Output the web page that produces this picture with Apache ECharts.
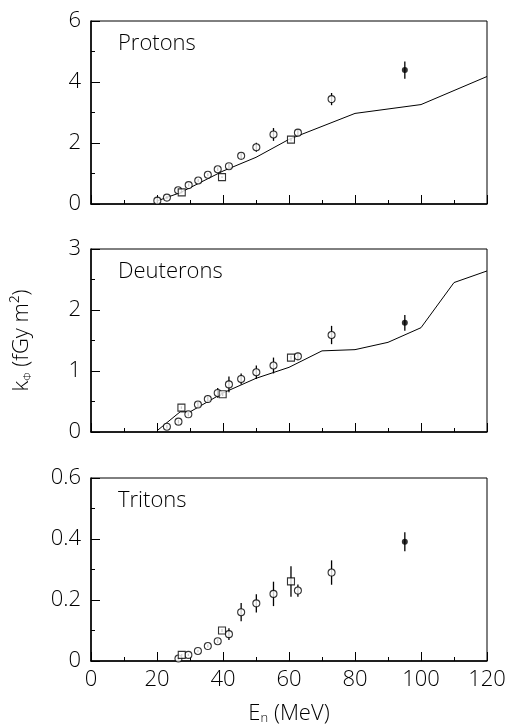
<!DOCTYPE html>
<html>
<head>
<meta charset="utf-8">
<script src="https://cdn.jsdelivr.net/npm/echarts@6/dist/echarts.min.js"></script>
<style>html,body{margin:0;padding:0;background:#fff;}#c{width:510px;height:727px;}</style>
</head>
<body>
<div id="c"></div>
<script>
// ---------- Data ----------
const panelNames = ['Protons', 'Deuterons', 'Tritons'];
const xTicks = [0, 20, 40, 60, 80, 100, 120];

// Protons
const pCircX = [20.1, 23.0, 26.4, 29.6, 32.5, 35.4, 38.4, 41.8, 45.5, 50.1, 55.3, 62.7, 72.9];
const pCircY = [0.11, 0.21, 0.45, 0.62, 0.77, 0.96, 1.14, 1.24, 1.58, 1.86, 2.28, 2.34, 3.44];
const pCircE = [0.13, 0.05, 0.05, 0.05, 0.05, 0.05, 0.06, 0.08, 0.12, 0.15, 0.21, 0.10, 0.20];
const pSqX = [27.5, 39.7, 60.6];
const pSqY = [0.38, 0.88, 2.11];
const pSqE = [0.03, 0.03, 0.05];
const pFillX = [95.1];
const pFillY = [4.39];
const pFillE = [0.28];
const pLineX = [20, 27, 40, 50, 60, 80, 100, 120];
const pLineY = [0.10, 0.37, 1.08, 1.53, 2.12, 2.97, 3.26, 4.18];

// Deuterons
const dCircX = [23.0, 26.5, 29.5, 32.4, 35.4, 38.4, 41.8, 45.5, 50.1, 55.3, 62.7, 72.9];
const dCircY = [0.087, 0.17, 0.29, 0.45, 0.54, 0.64, 0.78, 0.87, 0.98, 1.09, 1.24, 1.59];
const dCircE = [0.03, 0.03, 0.03, 0.05, 0.06, 0.08, 0.13, 0.09, 0.11, 0.13, 0.06, 0.15];
const dSqX = [27.4, 39.9, 60.6];
const dSqY = [0.40, 0.62, 1.22];
const dSqE = [0.02, 0.03, 0.03];
const dFillX = [95.1];
const dFillY = [1.79];
const dFillE = [0.13];
const dLineX = [20, 27, 30, 40, 50, 60, 70, 80, 90, 100, 110, 120];
const dLineY = [0.02, 0.33, 0.33, 0.64, 0.88, 1.06, 1.33, 1.35, 1.47, 1.71, 2.45, 2.64];

// Tritons
const tCircX = [26.5, 29.5, 32.4, 35.4, 38.4, 41.8, 45.5, 50.1, 55.3, 62.7, 72.9];
const tCircY = [0.008, 0.020, 0.033, 0.049, 0.065, 0.088, 0.160, 0.189, 0.220, 0.231, 0.290];
const tCircE = [0.004, 0.004, 0.004, 0.005, 0.006, 0.019, 0.030, 0.030, 0.040, 0.020, 0.040];
const tSqX = [27.5, 39.7, 60.6];
const tSqY = [0.020, 0.100, 0.261];
const tSqE = [0.003, 0.005, 0.050];
const tFillX = [95.1];
const tFillY = [0.391];
const tFillE = [0.031];

const yMax = [6, 3, 0.6];
const yInterval = [2, 1, 0.2];

// ---------- Build ----------
const FONT = '"Open Sans"';
const FW = 300;
const zip = (xs, ys) => xs.map((x, i) => [x, ys[i]]);
const errs = (xs, ys, es) => xs.map((x, i) => [x, ys[i] - es[i], ys[i] + es[i]]);

function errRender(params, api) {
  const x = api.value(0);
  const p1 = api.coord([x, api.value(1)]);
  const p2 = api.coord([x, api.value(2)]);
  return {
    type: 'line',
    shape: { x1: p1[0], y1: p1[1], x2: p2[0], y2: p2[1] },
    style: { stroke: '#000', lineWidth: 1.3 }
  };
}

const panels = [
  { circ: [pCircX, pCircY, pCircE], sq: [pSqX, pSqY, pSqE], fill: [pFillX, pFillY, pFillE], line: [pLineX, pLineY] },
  { circ: [dCircX, dCircY, dCircE], sq: [dSqX, dSqY, dSqE], fill: [dFillX, dFillY, dFillE], line: [dLineX, dLineY] },
  { circ: [tCircX, tCircY, tCircE], sq: [tSqX, tSqY, tSqE], fill: [tFillX, tFillY, tFillE], line: null }
];

const gridTops = [21, 249, 478];
const gridH = 183;
const grids = [], xAxes = [], yAxes = [], series = [], graphics = [];
const subStyle = { fontSize: 13, fontFamily: FONT, fontWeight: FW, color: '#000', verticalAlign: 'bottom', padding: [10, 0, 0, 0] };

panels.forEach((p, i) => {
  grids.push({ left: 91, top: gridTops[i], width: 396, height: gridH, show: true, borderColor: '#000', borderWidth: 1, backgroundColor: 'transparent' });
  xAxes.push({
    gridIndex: i, type: 'value', min: xTicks[0], max: xTicks[xTicks.length - 1], interval: xTicks[1] - xTicks[0],
    axisLine: { show: true, onZero: false, lineStyle: { color: '#000', width: 1.5 } },
    axisTick: { show: true, inside: true, length: 9, lineStyle: { color: '#000', width: 1 } },
    minorTick: { show: true, splitNumber: 2, length: 4, lineStyle: { color: '#000', width: 1 } },
    splitLine: { show: false },
    axisLabel: { show: i === 2, color: '#000', fontFamily: FONT, fontWeight: FW, fontSize: 22, margin: 8, showMinLabel: true, showMaxLabel: true },
    name: i === 2 ? 'E{sub|n} (MeV)' : '',
    nameLocation: 'middle', nameGap: 41,
    nameTextStyle: { color: '#000', fontFamily: FONT, fontWeight: FW, fontSize: 22, rich: { sub: subStyle } }
  });
  yAxes.push({
    gridIndex: i, type: 'value', min: 0, max: yMax[i], interval: yInterval[i],
    axisLine: { show: true, onZero: false, lineStyle: { color: '#000', width: 1.5 } },
    axisTick: { show: true, inside: true, length: 9, lineStyle: { color: '#000', width: 1 } },
    minorTick: { show: true, splitNumber: 2, length: 4, lineStyle: { color: '#000', width: 1 } },
    splitLine: { show: false },
    axisLabel: { color: '#000', fontFamily: FONT, fontWeight: FW, fontSize: 22, margin: 10, showMinLabel: true, showMaxLabel: true },
    name: i === 1 ? 'k{sub|Φ} (fGy m²)' : '',
    nameLocation: 'middle', nameGap: 58, nameRotate: 90,
    nameTextStyle: { color: '#000', fontFamily: FONT, fontWeight: FW, fontSize: 22, rich: { sub: Object.assign({}, subStyle, { fontSize: 11 }) } }
  });

  if (p.line) {
    series.push({ type: 'line', xAxisIndex: i, yAxisIndex: i, data: zip(p.line[0], p.line[1]), showSymbol: false, symbol: 'none',
      lineStyle: { color: '#000', width: 1 }, z: 2, animation: false, silent: true });
  }
  [p.circ, p.sq, p.fill].forEach(s => {
    series.push({ type: 'custom', xAxisIndex: i, yAxisIndex: i, data: errs(s[0], s[1], s[2]), renderItem: errRender,
      z: 3, animation: false, silent: true, clip: false });
  });
  series.push({ type: 'scatter', xAxisIndex: i, yAxisIndex: i, data: zip(p.circ[0], p.circ[1]), symbol: 'circle', symbolSize: 7,
    itemStyle: { color: '#fff', borderColor: '#000', borderWidth: 1.1 }, z: 4, animation: false, silent: true });
  series.push({ type: 'scatter', xAxisIndex: i, yAxisIndex: i, data: zip(p.sq[0], p.sq[1]), symbol: 'rect', symbolSize: 7,
    itemStyle: { color: '#fff', borderColor: '#000', borderWidth: 1.1 }, z: 4, animation: false, silent: true });
  series.push({ type: 'scatter', xAxisIndex: i, yAxisIndex: i, data: zip(p.fill[0], p.fill[1]), symbol: 'circle', symbolSize: 6,
    itemStyle: { color: '#000', borderColor: '#000', borderWidth: 0 }, z: 4, animation: false, silent: true });

  graphics.push({ type: 'text', left: 118, top: gridTops[i] + 12,
    style: { text: panelNames[i], fill: '#000', font: FW + ' 22px ' + FONT } });
});

const chart = echarts.init(document.getElementById('c'), null, { renderer: 'canvas' });
chart.setOption({
  backgroundColor: '#fff',
  animation: false,
  grid: grids, xAxis: xAxes, yAxis: yAxes, series: series, graphic: graphics
});
</script>
</body>
</html>
